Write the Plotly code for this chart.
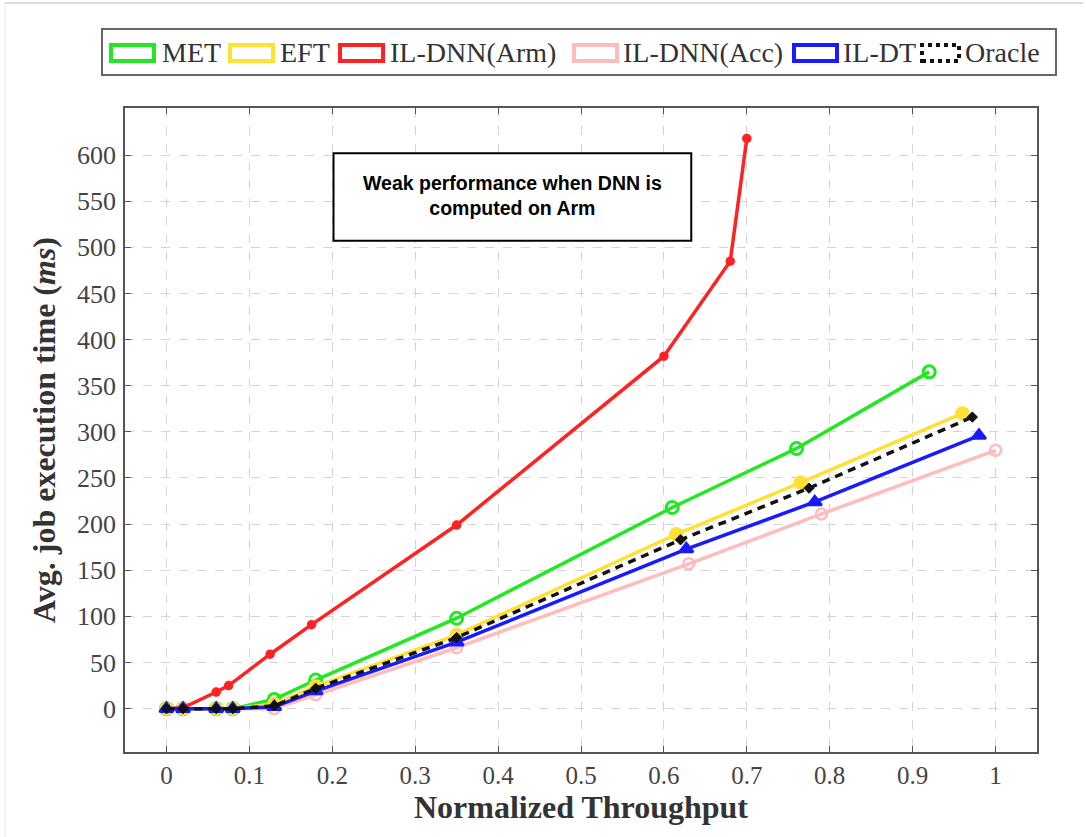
import plotly.graph_objects as go

# ---- data -------------------------------------------------------------
x_met = [0, 0.02, 0.06, 0.08, 0.13, 0.18, 0.35, 0.61, 0.76, 0.92]
y_met = [0, 0, 0, 0, 10, 31, 98, 218, 282, 365]

x_eft = [0, 0.02, 0.06, 0.08, 0.13, 0.18, 0.35, 0.615, 0.765, 0.96]
y_eft = [0, 0, 0, 0, 5, 24, 80, 189, 245, 320]

x_arm = [0, 0.02, 0.06, 0.075, 0.125, 0.175, 0.35, 0.60, 0.68, 0.70]
y_arm = [0, 1, 18, 25, 59, 91, 199, 382, 485, 618]

x_acc = [0, 0.02, 0.06, 0.08, 0.13, 0.18, 0.35, 0.63, 0.79, 1.0]
y_acc = [0, 0, 0, 0, 0, 15, 66, 157, 211, 280]

x_dt = [0, 0.02, 0.06, 0.08, 0.13, 0.18, 0.35, 0.627, 0.782, 0.98]
y_dt = [0, 0, 0, 0, 2, 19, 72, 173, 224, 296]

x_oracle = [0, 0.02, 0.06, 0.08, 0.13, 0.18, 0.35, 0.62, 0.775, 0.972]
y_oracle = [0, 0, 0, 0, 3, 22, 77, 183, 239, 316]

x_ticks = [0, 0.1, 0.2, 0.3, 0.4, 0.5, 0.6, 0.7, 0.8, 0.9, 1.0]
x_tick_labels = ["0", "0.1", "0.2", "0.3", "0.4", "0.5", "0.6", "0.7", "0.8", "0.9", "1"]
y_ticks = [0, 50, 100, 150, 200, 250, 300, 350, 400, 450, 500, 550, 600]

series_names = ["MET", "EFT", "IL-DNN(Arm)", "IL-DNN(Acc)", "IL-DT", "Oracle"]

# ---- styles -----------------------------------------------------------
GREEN = "#22e822"
YELLOW = "#ffe033"
RED = "#ff2222"
PINK = "#ffbcbc"
BLUE = "#1a1aff"
BLACK = "#111111"

W, H = 1086, 837
L, R, T, B = 125, 1037, 108, 752  # plot area in pixels

SERIF = "Liberation Serif, Times New Roman, serif"
SANS = "Liberation Sans, Arial, sans-serif"

fig = go.Figure()


def add_series(x, y, name, color, symbol, size, width=3.5, dash="solid", mline=2.5):
    fig.add_trace(go.Scatter(
        x=x, y=y, name=name, mode="lines+markers",
        line=dict(color=color, width=width, dash=dash),
        marker=dict(symbol=symbol, size=size, color=color,
                    line=dict(color=color, width=mline)),
        showlegend=False,
    ))


add_series(x_acc, y_acc, "IL-DNN(Acc)", PINK, "circle-open", 11)
add_series(x_met, y_met, "MET", GREEN, "circle-open", 12, mline=3)
add_series(x_eft, y_eft, "EFT", YELLOW, "circle", 12)
add_series(x_arm, y_arm, "IL-DNN(Arm)", RED, "circle", 7)
add_series(x_dt, y_dt, "IL-DT", BLUE, "triangle-up", 12)
add_series(x_oracle, y_oracle, "Oracle", BLACK, "diamond", 8, width=3.5,
           dash="8px,6px", mline=1)


def px_x(p):
    return (p - L) / (R - L)


def px_y(p):
    return (B - p) / (B - T)


shapes = []
annotations = []

# outer frame of the figure
shapes.append(dict(type="line", xref="paper", yref="paper",
                   x0=px_x(5), x1=px_x(1083), y0=px_y(3), y1=px_y(3),
                   line=dict(color="#cfcfcf", width=1.5)))
shapes.append(dict(type="line", xref="paper", yref="paper",
                   x0=px_x(5), x1=px_x(5), y0=px_y(3), y1=px_y(837),
                   line=dict(color="#e6e6e6", width=1)))

# legend box
shapes.append(dict(type="rect", xref="paper", yref="paper",
                   x0=px_x(102), x1=px_x(1056), y0=px_y(75), y1=px_y(29),
                   line=dict(color="#666666", width=2), fillcolor="white"))

legend_items = [
    (series_names[0], GREEN, 111, 160, "solid"),
    (series_names[1], YELLOW, 230, 278, "solid"),
    (series_names[2], RED, 340, 388, "solid"),
    (series_names[3], PINK, 574, 621, "solid"),
    (series_names[4], BLUE, 794, 841, "solid"),
    (series_names[5], BLACK, 922, 963, "dot"),
]
for name, color, sx, tx, dash in legend_items:
    sw = 43 if dash == "solid" else 37
    shapes.append(dict(type="rect", xref="paper", yref="paper",
                       x0=px_x(sx), x1=px_x(sx + sw), y0=px_y(61), y1=px_y(45),
                       line=dict(color=color, width=4, dash=dash)))
    annotations.append(dict(xref="paper", yref="paper", x=px_x(tx), y=px_y(52),
                            xanchor="left", yanchor="middle", showarrow=False,
                            text=name, font=dict(family=SERIF, size=28, color="#333333")))

# callout box in data coordinates
shapes.append(dict(type="rect", xref="x", yref="y",
                   x0=0.2015, x1=0.633, y0=507, y1=602,
                   line=dict(color="black", width=2), fillcolor="white", layer="above"))
annotations.append(dict(xref="x", yref="y", x=(0.2015 + 0.633) / 2, y=556,
                        showarrow=False, align="center",
                        text="<b>Weak performance when DNN is<br>computed on Arm</b>",
                        font=dict(family=SANS, size=19.5, color="black")))

fig.update_layout(
    width=W, height=H,
    margin=dict(l=L, r=W - R, t=T, b=H - B, pad=0),
    paper_bgcolor="white", plot_bgcolor="white",
    shapes=shapes, annotations=annotations,
    showlegend=False,
)

fig.update_xaxes(
    range=[-0.05, 1.05],
    tickvals=x_ticks, ticktext=x_tick_labels,
    ticks="inside", ticklen=6, tickcolor="#555555", tickwidth=1,
    showline=True, linecolor="#555555", linewidth=1.5, mirror="ticks",
    showgrid=True, gridcolor="#d4d4d4", griddash="dash", gridwidth=1,
    zeroline=False,
    tickfont=dict(family=SERIF, size=25, color="#444444"),
    ticklabelstandoff=0,
    title=dict(text="<b>Normalized Throughput</b>",
               font=dict(family=SERIF, size=32, color="#333333"), standoff=6),
)
fig.update_yaxes(
    range=[-47, 651],
    tickvals=y_ticks,
    ticks="inside", ticklen=6, tickcolor="#555555", tickwidth=1,
    showline=True, linecolor="#555555", linewidth=1.5, mirror="ticks",
    showgrid=True, gridcolor="#d4d4d4", griddash="dash", gridwidth=1,
    zeroline=False,
    tickfont=dict(family=SERIF, size=26, color="#444444"),
    ticklabelstandoff=2,
    title=dict(text="<b>Avg. job execution time (<i>ms</i>)</b>",
               font=dict(family=SERIF, size=32, color="#333333"), standoff=12),
)

fig.write_html("out.html")
